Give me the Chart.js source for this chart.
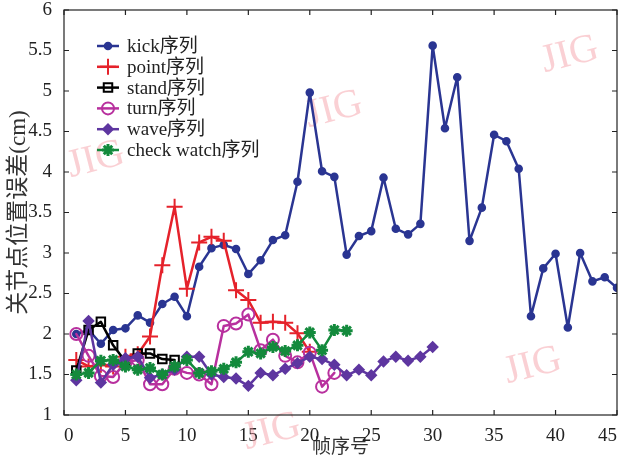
<!DOCTYPE html>
<html>
<head>
<meta charset="utf-8">
<script src="https://cdn.jsdelivr.net/npm/chart.js@4/dist/chart.umd.min.js"></script>
<style>
  html, body { margin: 0; padding: 0; background: #fff; }
  #wrap { width: 619px; height: 459px; }
</style>
</head>
<body>
<div id="wrap"><canvas id="errChart"></canvas></div>
<script>
// per-frame joint position error (cm)
const seriesNames = ['kick序列', 'point序列', 'stand序列', 'turn序列', 'wave序列', 'check watch序列'];
const xTicks = [0, 5, 10, 15, 20, 25, 30, 35, 40, 45];
const yTicks = [1, 1.5, 2, 2.5, 3, 3.5, 4, 4.5, 5, 5.5, 6];

const kick = [2.0, 2.05, 1.88, 2.05, 2.07, 2.23, 2.14, 2.37, 2.46, 2.22,
              2.83, 3.06, 3.1, 3.05, 2.74, 2.91, 3.16, 3.22, 3.88, 4.98,
              4.01, 3.94, 2.98, 3.21, 3.27, 3.93, 3.3, 3.23, 3.36, 5.56,
              4.54, 5.17, 3.15, 3.56, 4.46, 4.38, 4.04, 2.22, 2.81, 2.99,
              2.08, 3.0, 2.65, 2.7, 2.57];
const point = [1.68, 1.6, 1.62, 1.6, 1.72, 1.75, 1.97, 2.85, 3.57, 2.56,
               3.13, 3.2, 3.15, 2.54, 2.42, 2.14, 2.15, 2.14, 2.01, 1.78];
const stand = [1.55, 2.05, 2.15, 1.86, 1.66, 1.76, 1.76, 1.69, 1.68];
const turn = [2.0, 1.73, 1.48, 1.47, 1.65, 1.68, 1.38, 1.38, 1.57, 1.52,
              1.5, 1.38, 2.1, 2.13, 2.24, 1.8, 1.93, 1.73, 1.65, 1.77,
              1.35, 1.52];
const wave = [1.43, 2.16, 1.4, 1.62, 1.7, 1.72, 1.46, 1.5, 1.56, 1.72,
              1.72, 1.5, 1.47, 1.45, 1.36, 1.52, 1.49, 1.57, 1.64, 1.72,
              1.69, 1.62, 1.49, 1.56, 1.49, 1.66, 1.72, 1.67, 1.72, 1.84];
const checkWatch = [1.5, 1.52, 1.67, 1.68, 1.6, 1.56, 1.58, 1.5, 1.6, 1.68,
                    1.52, 1.54, 1.57, 1.65, 1.78, 1.76, 1.84, 1.79, 1.86, 2.02,
                    1.8, 2.05, 2.04];

const serif = "'Liberation Serif', 'DejaVu Serif', 'Noto Sans CJK SC', serif";

// frame numbers start at 1
function toPoints(arr) {
    return arr.map((v, i) => ({ x: i + 1, y: v }));
}

const styles = [
    { color: '#2a3592', pointStyle: 'circle', radius: 3.3, fill: true },
    { color: '#e5222b', pointStyle: 'cross', radius: 8, fill: false },
    { color: '#000000', pointStyle: 'rect', radius: 6, fill: false },
    { color: '#b8309e', pointStyle: 'circle', radius: 6, fill: false },
    { color: '#5e36a0', pointStyle: 'rectRot', radius: 4.8, fill: true },
    { color: '#138a3c', pointStyle: 'star', radius: 6, fill: false }
];
const allData = [kick, point, stand, turn, wave, checkWatch];

const datasets = allData.map((arr, i) => {
    const s = styles[i];
    return {
        label: seriesNames[i],
        data: toPoints(arr),
        borderColor: s.color,
        backgroundColor: s.color,
        borderWidth: 2.5,
        borderJoinStyle: 'round',
        borderCapStyle: 'round',
        tension: 0,
        pointStyle: s.pointStyle,
        pointRadius: s.radius,
        pointBorderWidth: s.pointStyle === 'star' ? 3 : 2,
        pointBackgroundColor: s.fill ? s.color : 'rgba(0,0,0,0)',
        pointBorderColor: s.color,
        order: allData.length - i
    };
});

// pink JIG watermarks
const watermarkPlugin = {
    id: 'watermark',
    beforeDatasetsDraw(chart) {
        const ctx = chart.ctx;
        const marks = [[570, 55], [96, 160], [334, 110], [533, 366], [272, 432]];
        ctx.save();
        ctx.fillStyle = 'rgba(245, 150, 160, 0.45)';
        ctx.font = "40px 'Liberation Serif', serif";
        ctx.textAlign = 'center';
        ctx.textBaseline = 'middle';
        marks.forEach(([x, y]) => {
            ctx.save();
            ctx.translate(x, y);
            ctx.rotate(-0.25);
            ctx.fillText('JIG', 0, 0);
            ctx.restore();
        });
        ctx.restore();
    }
};

// box frame with inward tick marks on all four sides
const frameTicksPlugin = {
    id: 'frameTicks',
    afterDatasetsDraw(chart) {
        const { ctx, chartArea: a, scales } = chart;
        ctx.save();
        ctx.strokeStyle = '#222';
        ctx.lineWidth = 1.2;
        ctx.strokeRect(a.left, a.top, a.right - a.left, a.bottom - a.top);
        const len = 5;
        ctx.beginPath();
        xTicks.forEach(v => {
            const px = scales.x.getPixelForValue(v);
            ctx.moveTo(px, a.bottom); ctx.lineTo(px, a.bottom - len);
            ctx.moveTo(px, a.top); ctx.lineTo(px, a.top + len);
        });
        yTicks.forEach(v => {
            const py = scales.y.getPixelForValue(v);
            ctx.moveTo(a.left, py); ctx.lineTo(a.left + len, py);
            ctx.moveTo(a.right, py); ctx.lineTo(a.right - len, py);
        });
        ctx.stroke();
        ctx.restore();
    }
};

// legend inside the plot, line + marker samples like the original
const innerLegendPlugin = {
    id: 'innerLegend',
    afterDraw(chart) {
        const ctx = chart.ctx;
        const x0 = 97, x1 = 119, tx = 127;
        const y0 = 46, dy = 20.8;
        ctx.save();
        ctx.font = '19px ' + serif;
        ctx.textBaseline = 'middle';
        ctx.textAlign = 'left';
        chart.data.datasets.forEach((ds, i) => {
            const y = y0 + i * dy;
            ctx.strokeStyle = ds.borderColor;
            ctx.lineWidth = 2.5;
            ctx.beginPath();
            ctx.moveTo(x0, y); ctx.lineTo(x1, y);
            ctx.stroke();
            ctx.fillStyle = ds.pointBackgroundColor;
            ctx.lineWidth = ds.pointBorderWidth;
            Chart.helpers.drawPoint(ctx, {
                pointStyle: ds.pointStyle,
                radius: ds.pointRadius,
                rotation: 0,
                borderWidth: ds.pointBorderWidth
            }, (x0 + x1) / 2, y);
            ctx.fillStyle = '#222';
            ctx.fillText(ds.label, tx, y + 1);
        });
        ctx.restore();
    }
};

new Chart(document.getElementById('errChart').getContext('2d'), {
    type: 'line',
    data: { datasets: datasets },
    plugins: [watermarkPlugin, frameTicksPlugin, innerLegendPlugin],
    options: {
        responsive: true, maintainAspectRatio: false,
        animation: false,
        layout: { autoPadding: false, padding: { top: 10, right: 2, left: 0, bottom: 0 } },
        plugins: { legend: { display: false }, tooltip: { enabled: false } },
        scales: {
            x: {
                type: 'linear', min: 0, max: 45,
                afterBuildTicks: s => { s.ticks = xTicks.map(v => ({ value: v })); },
                afterFit: s => { s.height = 44; s.paddingLeft = 0; s.paddingRight = 0; },
                grid: { display: false },
                border: { display: false },
                ticks: { color: '#222', font: { family: serif, size: 19 }, padding: 2, align: 'inner', maxRotation: 0 },
                title: { display: true, text: '帧序号', color: '#333', font: { family: serif, size: 19 }, padding: { top: -4, bottom: 0 } }
            },
            y: {
                min: 1, max: 6,
                afterBuildTicks: s => { s.ticks = yTicks.map(v => ({ value: v })); },
                afterFit: s => { s.width = 64; s.paddingTop = 0; s.paddingBottom = 0; },
                grid: { display: false },
                border: { display: false },
                ticks: { color: '#222', font: { family: serif, size: 19 }, padding: 4, callback: v => String(v) },
                title: { display: true, text: '关节点位置误差(cm)', color: '#333', font: { family: serif, size: 23 }, padding: { top: 5, bottom: 0 } }
            }
        }
    }
});
</script>
</body>
</html>
